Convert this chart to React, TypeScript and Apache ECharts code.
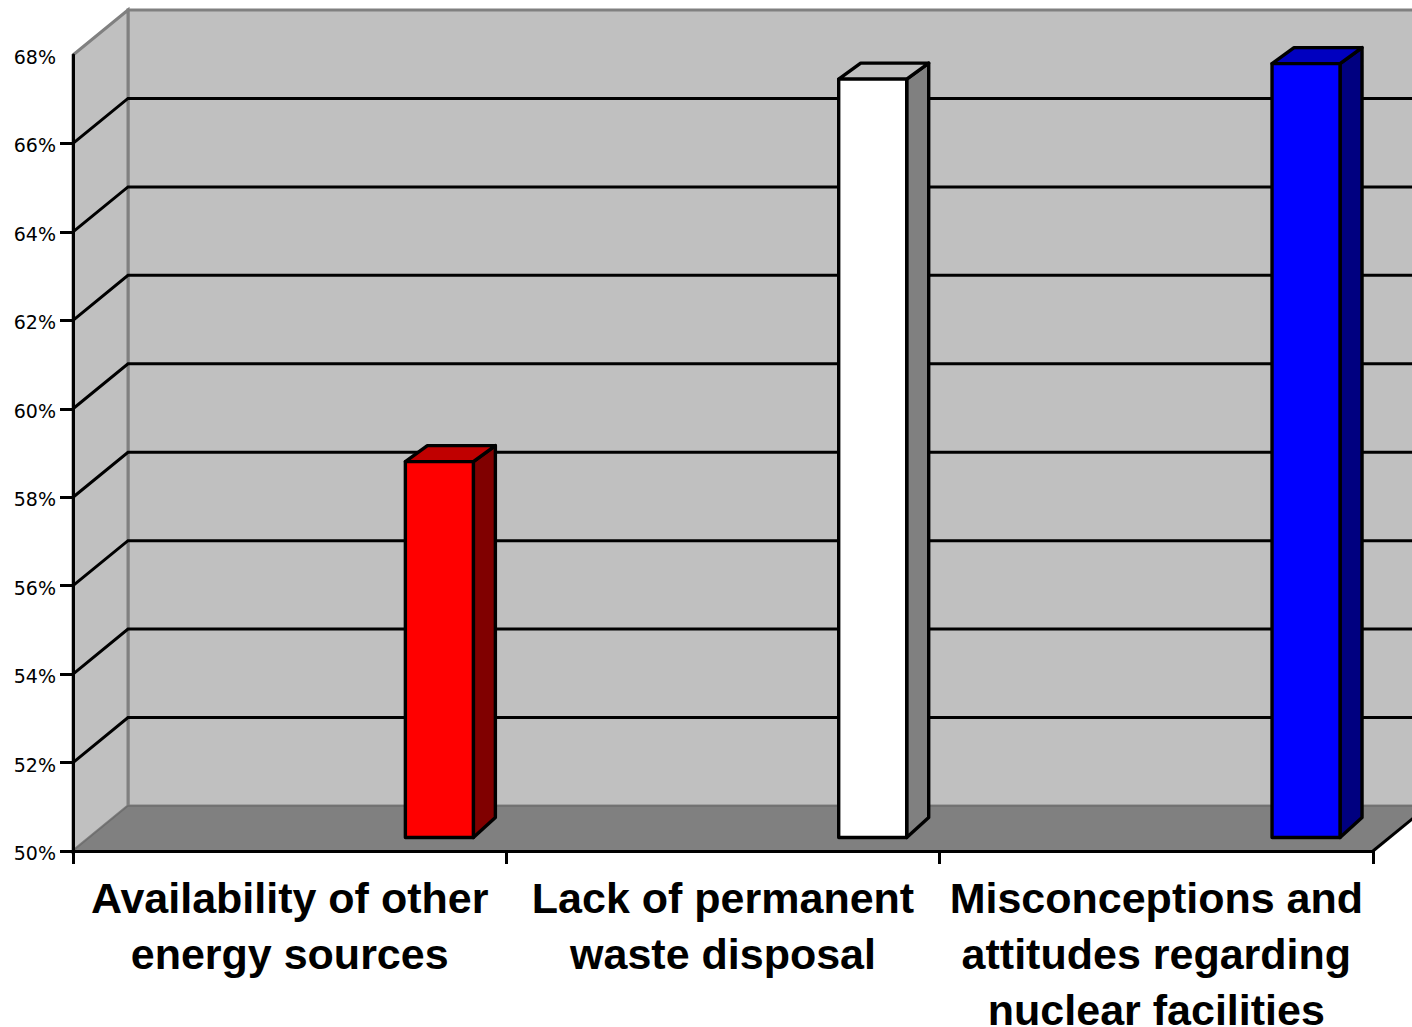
import React, { useEffect, useRef } from "react";
import * as echarts from "echarts";

const categories = [
  "Availability of other\nenergy sources",
  "Lack of permanent\nwaste disposal",
  "Misconceptions and\nattitudes regarding\nnuclear facilities",
];
const values = [58.5, 67.15, 67.5];
const frontColors = ["#FF0000", "#FFFFFF", "#0000FF"];
const topColors = ["#C00000", "#C0C0C0", "#0000C0"];
const sideColors = ["#800000", "#808080", "#000080"];
const gridTicks = [52, 54, 56, 58, 60, 62, 64, 66];
const tickValues = [50, 52, 54, 56, 58, 60, 62, 64, 66];
const labelValues = [50, 52, 54, 56, 58, 60, 62, 64, 66, 68];

const Y_MIN = 50;
const Y_MAX = 68;
const WALL_DX = 55;
const WALL_DY = -45;
const WALL_GREY = "#C0C0C0";
const FLOOR_GREY = "#808080";

const renderWalls = (params: any, api: any) => {
  const cs = params.coordSys;
  const left = cs.x;
  const right = cs.x + cs.width;
  const [, top] = api.coord([0, Y_MAX]);
  const [, bottom] = api.coord([0, Y_MIN]);
  const bx = left + WALL_DX;
  const bxr = right + WALL_DX;
  const bt = top + WALL_DY;
  const bb = bottom + WALL_DY;
  return {
    type: "group",
    children: [
      {
        type: "polygon",
        shape: { points: [[bx, bt], [bxr, bt], [bxr, bb], [bx, bb]] },
        style: { fill: WALL_GREY, stroke: FLOOR_GREY, lineWidth: 3 },
      },
      {
        type: "polygon",
        shape: { points: [[left, top], [bx, bt], [bx, bb], [left, bottom]] },
        style: { fill: WALL_GREY, stroke: FLOOR_GREY, lineWidth: 3 },
      },
      {
        type: "polygon",
        shape: { points: [[left, bottom], [bx, bb], [bxr, bb], [right, bottom]] },
        style: { fill: FLOOR_GREY, stroke: "#6E6E6E", lineWidth: 1.5 },
      },
      {
        type: "line",
        shape: { x1: right, y1: bottom, x2: bxr, y2: bb },
        style: { stroke: "#000", lineWidth: 3 },
      },
    ],
  };
};

const renderGrid = (params: any, api: any) => {
  const cs = params.coordSys;
  const left = cs.x;
  const right = cs.x + cs.width;
  const [, y] = api.coord([0, api.value(1)]);
  return {
    type: "polyline",
    shape: {
      points: [[left, y], [left + WALL_DX, y + WALL_DY], [right + WALL_DX, y + WALL_DY]],
    },
    style: { fill: "none", stroke: "#000", lineWidth: 3 },
  };
};

const renderBar = (params: any, api: any) => {
  const i = api.value(0);
  const [cx, yTop] = api.coord([i, api.value(1)]);
  const [, yBase] = api.coord([i, Y_MIN]);
  const band = api.size([1, 0])[0];
  const lift = 13.5;
  const x0 = cx + band * 0.267;
  const x1 = x0 + 68;
  const t = yTop - lift;
  const b = yBase - lift;
  const stroke = { stroke: "#000", lineWidth: 3.4, lineJoin: "round" };
  return {
    type: "group",
    children: [
      {
        type: "polygon",
        shape: { points: [[x1, t], [x1 + 22, t - 16], [x1 + 22, b - 20], [x1, b]] },
        style: { fill: sideColors[i], ...stroke },
      },
      {
        type: "polygon",
        shape: { points: [[x0, t], [x0 + 22, t - 16], [x1 + 22, t - 16], [x1, t]] },
        style: { fill: topColors[i], ...stroke },
      },
      {
        type: "rect",
        shape: { x: x0, y: t, width: x1 - x0, height: b - t },
        style: { fill: frontColors[i], ...stroke },
      },
    ],
  };
};

export default function App() {
  const ref = useRef<HTMLDivElement>(null);
  useEffect(() => {
    const chart = echarts.init(ref.current as HTMLDivElement, undefined, { renderer: "svg" });
    chart.setOption({
      animation: false,
      backgroundColor: "#FFFFFF",
      grid: { left: 73, right: 39, top: 55, bottom: 176, containLabel: false, outerBoundsMode: "none" },
      xAxis: {
        type: "category",
        data: categories,
        z: 5,
        axisLine: { show: true, lineStyle: { color: "#000", width: 3 } },
        axisTick: { show: true, length: 13, lineStyle: { color: "#000", width: 3 }, alignWithLabel: false },
        axisLabel: {
          interval: 0,
          margin: 19,
          color: "#000",
          fontFamily: "Liberation Sans",
          fontWeight: "bold",
          fontSize: 43,
          lineHeight: 56,
          hideOverlap: false,
        },
        splitLine: { show: false },
      },
      yAxis: {
        type: "value",
        min: Y_MIN,
        max: Y_MAX,
        interval: 2,
        z: 5,
        axisLine: { show: true, lineStyle: { color: "#000", width: 3 } },
        axisTick: { show: true, length: 13, customValues: tickValues, lineStyle: { color: "#000", width: 3 } },
        axisLabel: {
          margin: 17,
          color: "#000",
          fontFamily: "DejaVu Sans",
          fontSize: 19,
          verticalAlign: "top",
          lineHeight: 4,
          customValues: labelValues,
          formatter: (v: number) => `${v}%`,
        },
        splitLine: { show: false },
      },
      series: [
        {
          type: "custom",
          z: 1,
          silent: true,
          renderItem: renderWalls,
          encode: { x: 0, y: 1 },
          data: [[0, Y_MIN]],
        },
        {
          type: "custom",
          z: 2,
          silent: true,
          renderItem: renderGrid,
          encode: { x: 0, y: 1 },
          data: gridTicks.map((t) => [0, t]),
        },
        {
          type: "custom",
          z: 3,
          silent: true,
          renderItem: renderBar,
          encode: { x: 0, y: 1 },
          data: values.map((v, i) => [i, v]),
        },
      ],
    });
    return () => chart.dispose();
  }, []);
  return (
    <div
      ref={ref}
      style={{ position: "fixed", left: 0, top: 0, width: 1412, height: 1027, overflow: "hidden" }}
    />
  );
}
